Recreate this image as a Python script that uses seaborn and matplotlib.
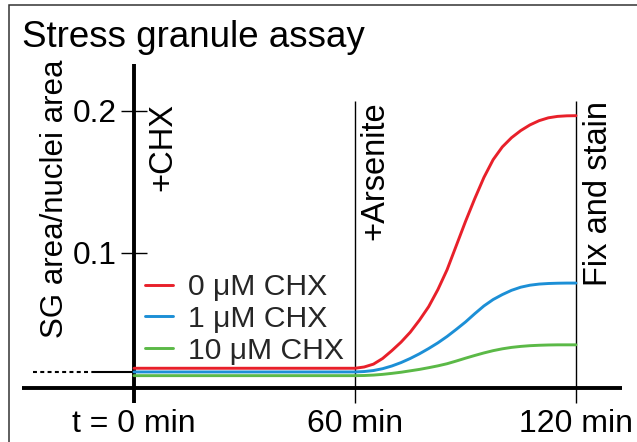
import numpy as np
import pandas as pd
import matplotlib
matplotlib.use("Agg")
import matplotlib.pyplot as plt
import seaborn as sns
from matplotlib.patches import Rectangle

# ---------------- data ----------------
title = "Stress granule assay"
ylabel = "SG area/nuclei area"
series_labels = ["0 μM CHX", "1 μM CHX", "10 μM CHX"]
series_colors = ["#E8202A", "#1C8FD6", "#5BB947"]
time_min = [0, 60, 62.5, 65, 67.5, 70, 72.5, 75, 77.5, 80, 82.5, 85, 87.5, 90,
            92.5, 95, 97.5, 100, 102.5, 105, 107.5, 110, 112.5, 115, 117.5, 120]
sg_0uM = [0.0186, 0.0186, 0.0195, 0.0215, 0.0255, 0.0310, 0.0370, 0.0440, 0.0525, 0.0620,
          0.0740, 0.0880, 0.1050, 0.1220, 0.1380, 0.1530, 0.1655, 0.1745, 0.1810, 0.1860,
          0.1900, 0.1930, 0.1950, 0.1960, 0.1964, 0.1965]
sg_1uM = [0.0160, 0.0160, 0.0163, 0.0170, 0.0183, 0.0202, 0.0226, 0.0255, 0.0288, 0.0325,
          0.0365, 0.0410, 0.0460, 0.0512, 0.0570, 0.0625, 0.0670, 0.0705, 0.0735, 0.0757,
          0.0771, 0.0779, 0.0783, 0.0785, 0.0786, 0.0786]
sg_10uM = [0.0134, 0.0134, 0.0135, 0.0138, 0.0143, 0.0150, 0.0158, 0.0168, 0.0178, 0.0190,
           0.0203, 0.0218, 0.0237, 0.0257, 0.0276, 0.0294, 0.0310, 0.0323, 0.0333, 0.0340,
           0.0345, 0.0348, 0.0350, 0.0351, 0.0351, 0.0351]
baseline_level = 0.0158
event_times = [0, 60, 120]
event_labels = ["+CHX", "+Arsenite", "Fix and stain"]
xtick_labels = ["t = 0 min", "60 min", "120 min"]
ytick_values = [0.1, 0.2]
ytick_labels = ["0.1", "0.2"]

# ---------------- style ----------------
sns.set_style("ticks")
plt.rcParams["font.family"] = ["Liberation Sans", "DejaVu Sans"]

W, H = 637, 442
fig = plt.figure(figsize=(W / 100, H / 100), dpi=100)

def fx(px):
    return px / W

def fy(py):
    return 1 - py / H

# axes: x-axis line spans px 22..622 at py 388, y-axis top at py 64
ax = fig.add_axes([fx(22), fy(388), (622 - 22) / W, (388 - 64) / H])

df = pd.DataFrame({
    "time": time_min * 3,
    "value": sg_0uM + sg_1uM + sg_10uM,
    "condition": sum([[lab] * len(time_min) for lab in series_labels], []),
})

sns.lineplot(data=df, x="time", y="value", hue="condition", hue_order=series_labels,
             palette=dict(zip(series_labels, series_colors)), linewidth=2.1,
             estimator=None, errorbar=None, ax=ax, zorder=3)
for ln in ax.get_lines():
    ln.set_solid_joinstyle("round")

px_per_min = 221 / 60
ax.set_xlim((22 - 134) / px_per_min, (622 - 134) / px_per_min)
ax.set_ylim(0.0047, 0.2329)
ax.set_xlabel("")
ax.set_ylabel("")

# spines
for s in ["top", "right"]:
    ax.spines[s].set_visible(False)
ax.spines["left"].set_position(("data", 0))
for s in ["left", "bottom"]:
    ax.spines[s].set_linewidth(2.8)
    ax.spines[s].set_color("black")
    ax.spines[s].set_capstyle("butt")

# event lines (60, 120)
for t in event_times[1:]:
    ax.plot([t, t], [0.0047, 0.2068], color="black", lw=1.0, zorder=2, solid_capstyle="butt")

# baseline reference at left of y axis
ax.plot([-27.4, -11.1], [baseline_level] * 2, color="black", lw=1.5,
        dashes=(1.9, 1.6), clip_on=False)
ax.plot([-11.1, 0], [baseline_level] * 2, color="black", lw=1.5, clip_on=False,
        solid_capstyle="butt")

# ticks
ax.set_xticks(event_times)
ax.set_xticklabels(xtick_labels)
ax.set_yticks(ytick_values)
ax.set_yticklabels(ytick_labels)
ax.tick_params(axis="x", direction="out", length=10.8, width=1.0, pad=4,
               labelsize=23, colors="black", bottom=True)
ax.tick_params(axis="y", direction="inout", length=19.4, width=1.0, pad=2.5,
               labelsize=22.8, colors="black", left=True)
xt = ax.xaxis.get_major_ticks()
xt[0].tick1line.set_markeredgewidth(2.8)

# event annotations
offsets_pt = [26.6, 20.4, 22.0]
tops = [0.2054, 0.2065, 0.2068]
for t, lab, off, top in zip(event_times, event_labels, offsets_pt, tops):
    ax.annotate(lab, xy=(t, top), xytext=(off, 0), textcoords="offset points",
                rotation=90, rotation_mode="anchor", ha="right", va="baseline",
                fontsize=23.5, color="black", annotation_clip=False)

# y label
fig.text(fx(63), fy(198.5), ylabel, rotation=90, rotation_mode="anchor",
         ha="center", va="baseline", fontsize=22.5, color="black")

# title
fig.text(fx(22), fy(47), title, ha="left", va="baseline", fontsize=26.5, color="black")

# legend
old = ax.get_legend()
handles = old.legend_handles
labels = [t.get_text() for t in old.get_texts()]
old.remove()
for h in handles:
    h.set_linewidth(2.1)
ax.legend(handles, labels, loc="center left", bbox_to_anchor=(fx(145), fy(319)),
          bbox_transform=fig.transFigure, frameon=False, fontsize=21.7,
          handlelength=0.93, handletextpad=0.5, labelspacing=0.12,
          borderpad=0, borderaxespad=0)

# frame border (cut off at right/bottom)
fig.add_artist(Rectangle((fx(9), -0.1), 2.0, fy(5) + 0.1, transform=fig.transFigure,
                         fill=False, edgecolor="#333333", lw=1.1))

fig.savefig("out.png", dpi=100)
